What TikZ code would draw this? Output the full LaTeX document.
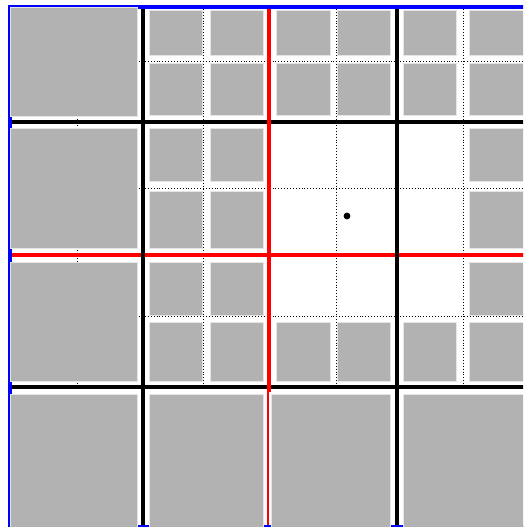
\documentclass[tikz,border=0pt]{standalone}
\begin{document}
\begin{tikzpicture}[x=1pt,y=-1pt,
  cellbox/.style={fill=black!30, draw=black!10, line width=0.7pt},
  gridthick/.style={line width=4pt},
  fine/.style={line width=0.9pt, dash pattern=on 0.9pt off 2pt}]
\useasboundingbox (0,0) rectangle (523,527);
\clip (0,0) rectangle (523,527);
% fine dotted subdivision lines
\foreach \x in {77,203,336,463} \draw[fine] (\x,9) -- (\x,387);
\foreach \y in {61,188,316} \draw[fine] (11.5,\y) -- (530,\y);
% blue domain boundary
\draw[blue, gridthick] (9.5,540) -- (9.5,7) -- (540,7);
\draw[blue, gridthick] (9.5,527) -- (540,527);
% big boxes of the left column
\foreach \ya/\yb in {7/116,128/248,262/381,394/535}
  \filldraw[cellbox] (10,\ya) rectangle (137,\yb);
% small boxes, rows 1, 2 and 6 full
\foreach \ya/\yb in {10/55,63/115,322/381}
  \foreach \xa/\xb in {149/202,210/263,276/330,337/390,403/456,469/535}
    \filldraw[cellbox] (\xa,\ya) rectangle (\xb,\yb);
% small boxes, rows 3 to 5 (columns A, B, F)
\foreach \ya/\yb in {128/181,191/248,262/315}
  \foreach \xa/\xb in {149/202,210/263,469/535}
    \filldraw[cellbox] (\xa,\ya) rectangle (\xb,\yb);
% bottom row big boxes
\foreach \xa/\xb in {149/263,271/390,403/535}
  \filldraw[cellbox] (\xa,394) rectangle (\xb,535);
% horizontal grid lines
\draw[gridthick] (11.5,122) -- (530,122);
\draw[gridthick, red] (11.5,255) -- (530,255);
\draw[gridthick] (11.5,387) -- (530,387);
% vertical grid lines
\draw[gridthick] (143,9) -- (143,525);
\draw[gridthick, red] (269,9) -- (269,392);
\draw[red, line width=1.5pt] (268,392) -- (268,525);
\draw[gridthick] (397,9) -- (397,525);
% point
\fill (347,216) circle (3.4pt);
\end{tikzpicture}
\end{document}
